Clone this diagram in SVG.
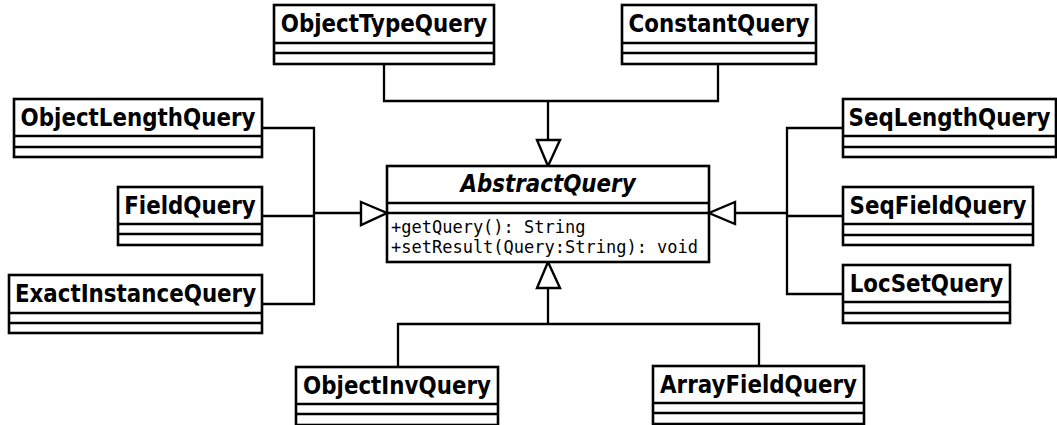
<svg xmlns="http://www.w3.org/2000/svg" width="1057" height="425" viewBox="0 0 1057 425">
  <style>
    .box { fill: #fff; stroke: #000; stroke-width: 2.6; }
    .sep { stroke: #000; stroke-width: 2.6; }
    .name { font-family: "DejaVu Sans", "Liberation Sans", sans-serif; font-weight: bold; font-size: 21.4px; text-anchor: middle; fill: #000; }
    .abstract { font-style: italic; }
    .op { font-family: "DejaVu Sans Mono", "Liberation Mono", monospace; font-size: 17px; fill: #000; }
    .edge { fill: none; stroke: #000; stroke-width: 2.3; }
    .head { fill: #fff; stroke: #000; stroke-width: 2.4; stroke-linejoin: miter; }
  </style>

  <!-- inheritance connectors -->
  <g id="connectors">
    <!-- from above -->
    <polyline class="edge" points="384,64 384,101 718,101 718,64"/>
    <line class="edge" x1="548" y1="101" x2="548" y2="140"/>
    <polygon class="head" points="537,140 560,140 548,166"/>
    <!-- from the left -->
    <polyline class="edge" points="262,128 314,128 314,304 262,304"/>
    <line class="edge" x1="262" y1="216" x2="314" y2="216"/>
    <line class="edge" x1="313" y1="213" x2="361" y2="213"/>
    <polygon class="head" points="361,202 361,225 387,213"/>
    <!-- from the right -->
    <polyline class="edge" points="843,128 787,128 787,294 843,294"/>
    <line class="edge" x1="843" y1="216" x2="787" y2="216"/>
    <line class="edge" x1="788" y1="213" x2="735" y2="213"/>
    <polygon class="head" points="735,202 735,224 709,213"/>
    <!-- from below -->
    <polyline class="edge" points="398,367 398,324 759,324 759,366"/>
    <line class="edge" x1="548" y1="324" x2="548" y2="288"/>
    <polygon class="head" points="537,288 560,288 548,262"/>
  </g>

  <g id="AbstractQuery">
    <rect class="box" x="387" y="166" width="322" height="96"/>
    <line class="sep" x1="387" y1="203" x2="709" y2="203"/>
    <line class="sep" x1="387" y1="213" x2="709" y2="213"/>
    <text class="name abstract" transform="translate(548,192) scale(1,1.12)">AbstractQuery</text>
    <text class="op" x="391" y="233">+getQuery(): String</text>
    <text class="op" x="391" y="253">+setResult(Query:String): void</text>
  </g>

  <g id="ObjectTypeQuery">
    <rect class="box" x="274" y="5" width="220" height="59"/>
    <line class="sep" x1="274" y1="43" x2="494" y2="43"/>
    <line class="sep" x1="274" y1="53" x2="494" y2="53"/>
    <text class="name" transform="translate(384,32) scale(1,1.12)">ObjectTypeQuery</text>
  </g>

  <g id="ConstantQuery">
    <rect class="box" x="622" y="5" width="194" height="59"/>
    <line class="sep" x1="622" y1="43" x2="816" y2="43"/>
    <line class="sep" x1="622" y1="53" x2="816" y2="53"/>
    <text class="name" transform="translate(719,32) scale(1,1.12)">ConstantQuery</text>
  </g>

  <g id="ObjectLengthQuery">
    <rect class="box" x="14" y="99" width="248" height="58"/>
    <line class="sep" x1="14" y1="136" x2="262" y2="136"/>
    <line class="sep" x1="14" y1="147" x2="262" y2="147"/>
    <text class="name" transform="translate(138,126) scale(1,1.12)">ObjectLengthQuery</text>
  </g>

  <g id="FieldQuery">
    <rect class="box" x="118" y="187" width="144" height="58"/>
    <line class="sep" x1="118" y1="224" x2="262" y2="224"/>
    <line class="sep" x1="118" y1="234" x2="262" y2="234"/>
    <text class="name" transform="translate(190,214) scale(1,1.12)">FieldQuery</text>
  </g>

  <g id="ExactInstanceQuery">
    <rect class="box" x="9" y="275" width="253" height="58"/>
    <line class="sep" x1="9" y1="313" x2="262" y2="313"/>
    <line class="sep" x1="9" y1="323" x2="262" y2="323"/>
    <text class="name" transform="translate(135.5,302) scale(1,1.12)">ExactInstanceQuery</text>
  </g>

  <g id="SeqLengthQuery">
    <rect class="box" x="843" y="99" width="213" height="58"/>
    <line class="sep" x1="843" y1="136" x2="1056" y2="136"/>
    <line class="sep" x1="843" y1="147" x2="1056" y2="147"/>
    <text class="name" transform="translate(949.5,126) scale(1,1.12)">SeqLengthQuery</text>
  </g>

  <g id="SeqFieldQuery">
    <rect class="box" x="843" y="187" width="190" height="58"/>
    <line class="sep" x1="843" y1="224" x2="1033" y2="224"/>
    <line class="sep" x1="843" y1="235" x2="1033" y2="235"/>
    <text class="name" transform="translate(938,214) scale(1,1.12)">SeqFieldQuery</text>
  </g>

  <g id="LocSetQuery">
    <rect class="box" x="843" y="265" width="167" height="58"/>
    <line class="sep" x1="843" y1="302" x2="1010" y2="302"/>
    <line class="sep" x1="843" y1="313" x2="1010" y2="313"/>
    <text class="name" transform="translate(926.5,292) scale(1,1.12)">LocSetQuery</text>
  </g>

  <g id="ObjectInvQuery">
    <rect class="box" x="296" y="367" width="202" height="58"/>
    <line class="sep" x1="296" y1="404" x2="498" y2="404"/>
    <line class="sep" x1="296" y1="414" x2="498" y2="414"/>
    <text class="name" transform="translate(397,394) scale(1,1.12)">ObjectInvQuery</text>
  </g>

  <g id="ArrayFieldQuery">
    <rect class="box" x="653" y="366" width="211" height="58"/>
    <line class="sep" x1="653" y1="403" x2="864" y2="403"/>
    <line class="sep" x1="653" y1="413" x2="864" y2="413"/>
    <text class="name" transform="translate(758.5,393) scale(1,1.12)">ArrayFieldQuery</text>
  </g>
</svg>
